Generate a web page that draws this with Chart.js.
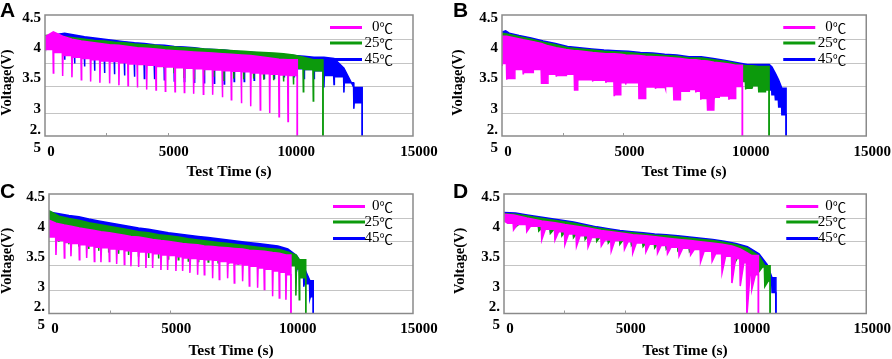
<!DOCTYPE html>
<html>
<head>
<meta charset="utf-8">
<script src="https://cdn.jsdelivr.net/npm/chart.js@4.4.0/dist/chart.umd.min.js"></script>
<style>
    body { margin: 0; background: #fff; width: 892px; height: 359px; position: relative; overflow: hidden; }
    .panel { position: absolute; }
</style>
</head>
<body>
<div class="panel" style="left:0;top:0"><canvas id="pA" width="446" height="180"></canvas></div>
<div class="panel" style="left:446px;top:0"><canvas id="pB" width="446" height="180"></canvas></div>
<div class="panel" style="left:0;top:180px"><canvas id="pC" width="446" height="179"></canvas></div>
<div class="panel" style="left:446px;top:180px"><canvas id="pD" width="446" height="179"></canvas></div>
<script>
(function () {
    "use strict";

    const SERIES_LABELS = [" 0℃", "25℃", "45℃"];
    const X_TICKS = [0, 5000, 10000, 15000];
    const Y_TICKS = [2.5, 3, 3.5, 4, 4.5];
    const GRID_LEVELS = [2.88, 3.31, 3.7, 4.09];

    // each row: [time (s), upper level, band bottom, dip at that time]
    const A_PINK = [
        [0, 4.14, 3.93, 4.05], [340, 4.22, 3.88, 3.54], [720, 4.15, 3.83, 3.49],
        [1100, 4.1, 3.8, 3.47], [1480, 4.07, 3.78, 3.43], [1860, 4.05, 3.76, 3.4],
        [2240, 4.03, 3.74, 3.38], [2635, 4.01, 3.73, 3.37], [3015, 4.0, 3.71, 3.34],
        [3385, 3.98, 3.69, 3.33], [3765, 3.96, 3.68, 3.3], [4145, 3.95, 3.67, 3.27],
        [4525, 3.94, 3.65, 3.26], [4905, 3.92, 3.64, 3.24], [5300, 3.91, 3.63, 3.23],
        [5680, 3.9, 3.62, 3.22], [6060, 3.89, 3.61, 3.2], [6455, 3.88, 3.6, 3.19],
        [6835, 3.87, 3.59, 3.18], [7230, 3.86, 3.58, 3.14], [7595, 3.85, 3.57, 3.1],
        [8005, 3.84, 3.56, 3.04], [8385, 3.83, 3.54, 2.99], [8775, 3.81, 3.53, 2.93],
        [9160, 3.79, 3.52, 2.88], [9540, 3.77, 3.51, 2.82], [9905, 3.76, 3.5, 2.74],
    ];
    const A_GREEN = [
        [0, 4.16, 3.98, 4.0], [405, 4.17, 3.95, 3.88], [810, 4.14, 3.92, 3.83],
        [1215, 4.12, 3.9, 3.8], [1620, 4.1, 3.88, 3.78], [2025, 4.08, 3.86, 3.76],
        [2430, 4.07, 3.84, 3.74], [2835, 4.05, 3.83, 3.73], [3240, 4.04, 3.82, 3.71],
        [3645, 4.02, 3.8, 3.69], [4050, 4.01, 3.79, 3.68], [4455, 4.0, 3.78, 3.67],
        [4860, 3.98, 3.77, 3.64], [5265, 3.97, 3.76, 3.55], [5670, 3.96, 3.75, 3.47],
        [6075, 3.95, 3.74, 3.45], [6480, 3.94, 3.73, 3.5], [6885, 3.93, 3.72, 3.48],
        [7290, 3.92, 3.71, 3.41], [7695, 3.91, 3.7, 3.45], [8100, 3.9, 3.69, 3.44],
        [8505, 3.89, 3.68, 3.45], [8910, 3.88, 3.67, 3.43], [9315, 3.87, 3.66, 3.42],
        [9720, 3.86, 3.64, 3.4], [10125, 3.84, 3.62, 3.35], [10530, 3.8, 3.6, 3.23],
        [10935, 3.76, 3.58, 3.08],
    ];
    const A_BLUE = [
        [0, 4.15, 3.98, 4.0], [800, 4.2, 3.93, 3.76], [1205, 4.17, 3.9, 3.7],
        [1610, 4.14, 3.87, 3.65], [2020, 4.12, 3.85, 3.58], [2425, 4.1, 3.83, 3.54],
        [2830, 4.08, 3.81, 3.52], [3240, 4.06, 3.8, 3.5], [3645, 4.04, 3.78, 3.48],
        [4050, 4.03, 3.77, 3.45], [4460, 4.01, 3.76, 3.44], [4865, 4.0, 3.75, 3.43],
        [5270, 3.98, 3.74, 3.41], [5680, 3.97, 3.73, 3.4], [6085, 3.96, 3.72, 3.39],
        [6490, 3.94, 3.71, 3.38], [6900, 3.93, 3.7, 3.37], [7305, 3.92, 3.69, 3.36],
        [7710, 3.9, 3.68, 3.4], [8120, 3.89, 3.67, 3.4], [8525, 3.88, 3.66, 3.42],
        [8930, 3.86, 3.65, 3.45], [9340, 3.85, 3.64, 3.45], [9745, 3.84, 3.62, 3.48],
        [10150, 3.83, 3.61, 3.48], [10560, 3.82, 3.6, 3.45], [10965, 3.8, 3.58, 3.45],
        [11370, 3.8, 3.5, 3.3], [11780, 3.78, 3.48, 3.35], [12185, 3.62, 3.38, 3.22],
        [12590, 3.3, 3.05, 2.95],
    ];
    const A_END = [10285, 11330, 12930];

    const B_PINK = [
        [0, 4.15, 3.7, 3.67], [191, 4.15, 3.45, 3.43], [531, 4.12, 3.6, 3.58],
        [872, 4.09, 3.55, 3.53], [1280, 4.06, 3.6, 3.55], [1621, 4.03, 3.37, 3.36],
        [1894, 3.99, 3.52, 3.5], [2234, 3.96, 3.5, 3.48], [2642, 3.93, 3.52, 3.5],
        [2983, 3.91, 3.26, 3.25], [3120, 3.91, 3.43, 3.4], [3733, 3.88, 3.42, 3.4],
        [4278, 3.86, 3.4, 3.38], [4618, 3.86, 3.18, 3.17], [4891, 3.85, 3.38, 3.36],
        [5095, 3.84, 3.38, 3.35], [5640, 3.83, 3.12, 3.12], [5912, 3.82, 3.31, 3.3],
        [6321, 3.81, 3.3, 3.28], [6730, 3.8, 3.32, 3.28], [7071, 3.79, 3.1, 3.1],
        [7343, 3.78, 3.24, 3.22], [7711, 3.76, 3.27, 3.25], [7983, 3.76, 3.24, 3.22],
        [8188, 3.75, 3.12, 3.1], [8460, 3.74, 2.93, 2.92], [8733, 3.72, 3.14, 3.12],
        [8937, 3.71, 3.16, 3.14], [9346, 3.69, 3.12, 3.1], [9618, 3.67, 3.32, 3.3],
    ];
    const B_GREEN = [
        [0, 4.2, 3.95, 3.95], [300, 4.18, 3.92, 3.92], [700, 4.14, 3.9, 3.88],
        [1200, 4.1, 3.85, 3.85], [1700, 4.05, 3.82, 3.82], [2200, 4.01, 3.78, 3.78],
        [2700, 3.96, 3.75, 3.75], [3200, 3.94, 3.72, 3.72], [3700, 3.92, 3.7, 3.7],
        [4200, 3.9, 3.68, 3.68], [4700, 3.89, 3.66, 3.66], [5200, 3.88, 3.65, 3.65],
        [5700, 3.86, 3.63, 3.63], [6200, 3.85, 3.62, 3.62], [6700, 3.83, 3.6, 3.6],
        [7200, 3.82, 3.58, 3.58], [7700, 3.79, 3.56, 3.56], [8200, 3.79, 3.54, 3.54],
        [8700, 3.76, 3.52, 3.52], [9200, 3.73, 3.5, 3.5], [9700, 3.69, 3.4, 3.4],
        [10030, 3.66, 3.29, 3.27], [10300, 3.66, 3.33, 3.3], [10570, 3.65, 3.23, 3.22],
        [10845, 3.65, 3.26, 3.24],
    ];
    const B_BLUE = [
        [0, 4.22, 4.0, 4.1], [150, 4.24, 4.0, 4.05], [300, 4.2, 3.97, 3.97],
        [700, 4.16, 3.93, 3.93], [1200, 4.12, 3.88, 3.88], [1700, 4.07, 3.85, 3.85],
        [2200, 4.03, 3.8, 3.8], [2700, 3.98, 3.77, 3.77], [3200, 3.96, 3.75, 3.75],
        [3700, 3.94, 3.72, 3.72], [4200, 3.92, 3.7, 3.7], [4700, 3.91, 3.68, 3.68],
        [5200, 3.9, 3.67, 3.67], [5700, 3.88, 3.65, 3.65], [6200, 3.87, 3.64, 3.64],
        [6700, 3.85, 3.62, 3.62], [7200, 3.84, 3.6, 3.6], [7700, 3.81, 3.58, 3.58],
        [8200, 3.81, 3.56, 3.56], [8700, 3.78, 3.54, 3.54], [9200, 3.75, 3.52, 3.52],
        [9700, 3.71, 3.45, 3.45], [10100, 3.68, 3.4, 3.4], [10600, 3.68, 3.4, 3.4],
        [11008, 3.68, 3.26, 3.25], [11117, 3.64, 3.18, 3.18], [11253, 3.54, 3.1, 3.1],
        [11389, 3.43, 2.98, 2.98], [11526, 3.29, 2.85, 2.85],
    ];
    const B_END = [9900, 11000, 11700];

    const C_PINK = [
        [0, 4.06, 3.78, 3.85], [288, 4.01, 3.72, 3.48], [632, 3.98, 3.69, 3.43],
        [906, 3.96, 3.67, 3.46], [1250, 3.93, 3.65, 3.4], [1552, 3.91, 3.63, 3.43],
        [1868, 3.89, 3.61, 3.37], [2142, 3.87, 3.6, 3.36], [2486, 3.85, 3.58, 3.37],
        [2788, 3.83, 3.57, 3.33], [3104, 3.81, 3.55, 3.32], [3378, 3.79, 3.54, 3.29],
        [3694, 3.78, 3.53, 3.28], [3996, 3.76, 3.52, 3.26], [4271, 3.74, 3.5, 3.26],
        [4614, 3.72, 3.48, 3.23], [4889, 3.71, 3.47, 3.23], [5232, 3.69, 3.45, 3.21],
        [5507, 3.67, 3.43, 3.21], [5809, 3.66, 3.42, 3.18], [6125, 3.65, 3.41, 3.15],
        [6400, 3.63, 3.4, 3.15], [6743, 3.62, 3.39, 3.09], [7017, 3.61, 3.37, 3.07],
        [7361, 3.6, 3.35, 3.09], [7635, 3.59, 3.33, 3.01], [7979, 3.58, 3.31, 3.04],
        [8254, 3.56, 3.29, 2.96], [8597, 3.55, 3.26, 2.93], [8872, 3.54, 3.24, 2.9],
        [9215, 3.52, 3.21, 2.79], [9490, 3.51, 3.19, 2.76], [9765, 3.48, 3.15, 2.73],
    ];
    const C_GREEN = [
        [0, 4.22, 3.98, 4.0], [410, 4.13, 3.95, 3.7], [820, 4.09, 3.92, 3.66],
        [1230, 4.06, 3.89, 3.62], [1640, 4.02, 3.86, 3.58], [2050, 3.99, 3.83, 3.55],
        [2460, 3.96, 3.8, 3.52], [2870, 3.93, 3.77, 3.5], [3280, 3.9, 3.74, 3.48],
        [3690, 3.87, 3.72, 3.45], [4100, 3.85, 3.7, 3.43], [4510, 3.82, 3.67, 3.42],
        [4920, 3.8, 3.65, 3.4], [5330, 3.78, 3.63, 3.4], [5740, 3.75, 3.61, 3.38],
        [6150, 3.73, 3.59, 3.37], [6560, 3.71, 3.57, 3.36], [6970, 3.69, 3.55, 3.35],
        [7380, 3.67, 3.53, 3.34], [7790, 3.65, 3.51, 3.33], [8200, 3.63, 3.49, 3.32],
        [8610, 3.61, 3.47, 3.3], [9020, 3.59, 3.45, 3.28], [9490, 3.57, 3.35, 3.3],
        [9900, 3.52, 3.3, 3.2], [10176, 3.48, 3.25, 2.8], [10313, 3.4, 3.1, 2.73],
    ];
    const C_BLUE = [
        [0, 4.2, 4.05, 4.1], [410, 4.17, 4.02, 3.95], [820, 4.14, 3.99, 3.9],
        [1230, 4.12, 3.96, 3.85], [1640, 4.08, 3.93, 3.8], [2050, 4.05, 3.9, 3.76],
        [2460, 4.02, 3.87, 3.72], [2870, 3.99, 3.84, 3.7], [3280, 3.96, 3.81, 3.67],
        [3690, 3.93, 3.78, 3.64], [4100, 3.91, 3.76, 3.62], [4510, 3.88, 3.74, 3.6],
        [4920, 3.85, 3.72, 3.58], [5330, 3.83, 3.7, 3.56], [5740, 3.81, 3.68, 3.55],
        [6150, 3.79, 3.66, 3.54], [6560, 3.77, 3.64, 3.53], [6970, 3.75, 3.62, 3.52],
        [7380, 3.73, 3.6, 3.5], [7790, 3.71, 3.58, 3.49], [8200, 3.69, 3.56, 3.48],
        [8610, 3.67, 3.54, 3.46], [9020, 3.65, 3.52, 3.45], [9430, 3.63, 3.5, 3.43],
        [9840, 3.58, 3.42, 3.38], [10200, 3.47, 3.25, 3.2], [10500, 3.28, 3.0, 2.95],
        [10750, 3.05, 2.78, 2.75],
    ];
    const C_END = [9970, 10580, 10890];

    const D_PINK = [
        [0, 4.16, 4.01, 4.05], [397, 4.15, 3.99, 3.9], [945, 4.1, 3.96, 3.87],
        [1562, 4.05, 3.91, 3.73], [2110, 4.02, 3.87, 3.73], [2521, 3.99, 3.83, 3.65],
        [3000, 3.96, 3.8, 3.62], [3480, 3.93, 3.77, 3.61], [4028, 3.89, 3.73, 3.63],
        [4439, 3.87, 3.72, 3.54], [4987, 3.84, 3.7, 3.57], [5330, 3.82, 3.68, 3.51],
        [5877, 3.8, 3.66, 3.53], [6357, 3.78, 3.64, 3.51], [6768, 3.76, 3.61, 3.5],
        [7247, 3.74, 3.59, 3.46], [7727, 3.72, 3.57, 3.48], [8138, 3.7, 3.54, 3.36],
        [8617, 3.68, 3.5, 3.37], [9028, 3.66, 3.46, 3.18], [9439, 3.63, 3.42, 3.01],
        [9782, 3.58, 3.35, 2.96], [10056, 3.52, 3.25, 2.45], [10261, 3.47, 3.15, 2.9],
    ];
    const D_GREEN = [
        [0, 4.17, 4.05, 4.1], [480, 4.16, 4.0, 3.95], [960, 4.13, 3.97, 3.92],
        [1440, 4.1, 3.94, 3.88], [1920, 4.07, 3.91, 3.84], [2400, 4.04, 3.88, 3.8],
        [2880, 4.01, 3.85, 3.77], [3360, 3.97, 3.82, 3.74], [3840, 3.93, 3.79, 3.71],
        [4320, 3.9, 3.76, 3.68], [4800, 3.87, 3.74, 3.66], [5280, 3.85, 3.72, 3.64],
        [5760, 3.83, 3.7, 3.62], [6240, 3.81, 3.68, 3.6], [6720, 3.8, 3.66, 3.58],
        [7200, 3.78, 3.64, 3.56], [7680, 3.76, 3.62, 3.54], [8160, 3.74, 3.6, 3.5],
        [8640, 3.72, 3.57, 3.47], [9120, 3.69, 3.54, 3.44], [9600, 3.65, 3.5, 3.38],
        [10080, 3.59, 3.42, 3.3], [10560, 3.46, 3.28, 3.2], [10800, 3.3, 3.05, 2.95],
    ];
    const D_BLUE = [
        [0, 4.19, 4.08, 4.12], [480, 4.18, 4.04, 4.0], [960, 4.15, 4.0, 3.96],
        [1440, 4.12, 3.97, 3.92], [1920, 4.09, 3.94, 3.88], [2400, 4.06, 3.91, 3.85],
        [2880, 4.03, 3.88, 3.82], [3360, 3.99, 3.85, 3.78], [3840, 3.95, 3.82, 3.75],
        [4320, 3.92, 3.79, 3.72], [4800, 3.89, 3.77, 3.7], [5280, 3.87, 3.75, 3.68],
        [5760, 3.85, 3.73, 3.66], [6240, 3.83, 3.71, 3.64], [6720, 3.82, 3.69, 3.62],
        [7200, 3.8, 3.67, 3.6], [7680, 3.78, 3.65, 3.58], [8160, 3.76, 3.63, 3.55],
        [8640, 3.74, 3.6, 3.52], [9120, 3.71, 3.57, 3.48], [9600, 3.67, 3.53, 3.44],
        [10080, 3.62, 3.47, 3.38], [10560, 3.5, 3.3, 3.3], [10900, 3.32, 3.05, 3.05],
        [11100, 3.1, 2.85, 2.85],
    ];
    const D_END = [10535, 11020, 11260];

    const COLORS = ["#ff00ff", "#0c9a0c", "#0000ff"];
    const SERIF = '"Liberation Serif", "Times New Roman", serif';

    // top edge of a trace, through the read upper levels
    function upperLine(rows, end) {
        const pts = rows.map((r) => ({ x: r[0], y: r[1] }));
        pts.push({ x: end, y: rows[rows.length - 1][1] });
        pts.push({ x: end, y: 2.3 });
        return pts;
    }

    // bottom edge: band bottom with the read dips
    function lowerLine(rows, end, sIn, sOut) {
        const pts = [];
        rows.forEach((r, i) => {
            if (i > 0) pts.push({ x: r[0] - sIn, y: rows[i - 1][2] });
            pts.push({ x: r[0], y: r[3] });
            pts.push({ x: r[0] + sOut, y: r[2] });
        });
        pts.push({ x: end, y: rows[rows.length - 1][2] });
        pts.push({ x: end, y: 2.3 });
        return pts;
    }

    const deco = {
        id: "deco",
        afterDraw(chart, args, o) {
            const { ctx, chartArea: a } = chart;
            ctx.save();
            ctx.strokeStyle = "#8a8a8a";
            ctx.lineWidth = 1.5;
            ctx.strokeRect(a.left, a.top, a.right - a.left, a.bottom - a.top);

            // small marks on the time axis
            ctx.strokeStyle = "#9a9a9a";
            ctx.lineWidth = 1;
            const xs = chart.scales.x;
            [2500, 5000].forEach((v) => {
                const px = Math.round(xs.getPixelForValue(v)) + 0.5;
                ctx.beginPath();
                ctx.moveTo(px, a.bottom);
                ctx.lineTo(px, a.bottom - 3);
                ctx.stroke();
            });

            // legend
            const rowsDy = [12.5, 28, 44.5];
            ctx.textAlign = "left";
            ctx.textBaseline = "middle";
            chart.data.datasets.filter((d) => d.label).forEach((ds, i) => {
                const y = a.top + rowsDy[i];
                ctx.strokeStyle = ds.borderColor;
                ctx.lineWidth = 3;
                ctx.beginPath();
                ctx.moveTo(a.right - o.legendIn, y);
                ctx.lineTo(a.right - o.legendIn + 32, y);
                ctx.stroke();
                const num = ds.label.slice(0, -1);
                const unit = ds.label.slice(-1);
                ctx.font = "15px " + SERIF;
                const wNum = ctx.measureText(num).width;
                ctx.font = '13.5px "Noto Sans CJK SC", sans-serif';
                const wUnit = ctx.measureText(unit).width;
                const x0 = a.right - 20 - wNum - wUnit;
                ctx.fillStyle = "#000";
                ctx.fillText(unit, x0 + wNum, y + 0.5);
                ctx.font = "15px " + SERIF;
                ctx.fillText(num, x0, y);
            });

            // y title
            ctx.save();
            ctx.translate(o.titleX, (a.top + a.bottom) / 2 + 7);
            ctx.rotate(-Math.PI / 2);
            ctx.textAlign = "center";
            ctx.font = "bold 14.5px " + SERIF;
            ctx.fillText("Voltage(V)", 0, 0);
            ctx.restore();

            // panel letter
            ctx.textAlign = "left";
            ctx.textBaseline = "alphabetic";
            ctx.font = 'bold 21px "Liberation Sans", Arial, sans-serif';
            ctx.fillText(o.letter, o.letterX, o.letterY);
            ctx.restore();
        },
    };

    const panels = [
        { id: "pA", letter: "A", series: [A_PINK, A_GREEN, A_BLUE], ends: A_END, sIn: 15, sOut: 15,
          left: 45, right: 33, top: 15, bottom: 44, letterX: 0, letterY: 16.7, titleX: 7.5, legendIn: 83 },
        { id: "pB", letter: "B", series: [B_PINK, B_GREEN, B_BLUE], ends: B_END, sIn: 10, sOut: 10,
          left: 56, right: 23, top: 15, bottom: 44, letterX: 7, letterY: 16.7, titleX: 12.5, legendIn: 83 },
        { id: "pC", letter: "C", series: [C_PINK, C_GREEN, C_BLUE], ends: C_END, sIn: 15, sOut: 20,
          left: 49, right: 33, top: 14, bottom: 45.5, letterX: 0, letterY: 18.3, titleX: 7.5, legendIn: 80 },
        { id: "pD", letter: "D", series: [D_PINK, D_GREEN, D_BLUE], ends: D_END, sIn: 20, sOut: 150,
          left: 58, right: 23, top: 14, bottom: 45.5, letterX: 7, letterY: 18.3, titleX: 14, legendIn: 80 },
    ];

    const tickFont = { family: SERIF, size: 15, weight: "bold" };

    panels.forEach((p) => {
        const datasets = [];
        p.series.forEach((rows, i) => {
            datasets.push({
                label: SERIES_LABELS[i],
                data: upperLine(rows, p.ends[i]),
                borderColor: COLORS[i],
                backgroundColor: COLORS[i],
                borderWidth: 1.5,
                pointRadius: 0,
                tension: 0,
                fill: "+1",
            });
            datasets.push({
                data: lowerLine(rows, p.ends[i], p.sIn, p.sOut),
                borderColor: COLORS[i],
                borderWidth: 1.5,
                pointRadius: 0,
                tension: 0,
                fill: false,
            });
        });

        const ctx = document.getElementById(p.id).getContext("2d");
        new Chart(ctx, {
            type: "line",
            data: { datasets },
            options: {
                responsive: false,
                animation: false,
                events: [],
                layout: { padding: { top: p.top, right: p.right, left: 0, bottom: 0 } },
                plugins: {
                    legend: { display: false },
                    tooltip: { enabled: false },
                    filler: { propagate: false },
                    deco: p,
                },
                scales: {
                    x: {
                        type: "linear",
                        min: 0,
                        max: 15000,
                        afterBuildTicks: (s) => { s.ticks = X_TICKS.map((v) => ({ value: v })); },
                        ticks: {
                            font: tickFont,
                            color: "#000",
                            padding: 7,
                            labelOffset: 6,
                            maxRotation: 0,
                            autoSkip: false,
                            callback: (v) => String(v),
                        },
                        grid: { display: false, drawTicks: false },
                        border: { display: false },
                        title: {
                            display: true,
                            text: "Test Time (s)",
                            color: "#000",
                            font: { family: SERIF, size: 15.5, weight: "bold", lineHeight: 1 },
                            padding: 0,
                        },
                        afterFit: (s) => { s.height = p.bottom; },
                    },
                    y: {
                        type: "linear",
                        position: "left",
                        min: 2.5,
                        max: 4.5,
                        afterBuildTicks: (s) => { s.ticks = Y_TICKS.map((v) => ({ value: v })); },
                        ticks: {
                            font: tickFont,
                            color: "#000",
                            padding: 4,
                            labelOffset: 3,
                            autoSkip: false,
                            callback: (v) => (v === 2.5 ? ["2.", "5"] : String(v)),
                        },
                        grid: { display: false, drawTicks: false },
                        border: { display: false },
                        afterFit: (s) => { s.width = p.left; },
                    },
                    yg: {
                        type: "linear",
                        position: "left",
                        min: 2.5,
                        max: 4.5,
                        afterBuildTicks: (s) => { s.ticks = GRID_LEVELS.map((v) => ({ value: v })); },
                        ticks: { display: false },
                        grid: { color: "#c4c4c4", lineWidth: 1, drawTicks: false },
                        border: { display: false },
                        afterFit: (s) => { s.width = 0; },
                    },
                },
            },
            plugins: [deco],
        });
    });
})();
</script>
</body>
</html>
